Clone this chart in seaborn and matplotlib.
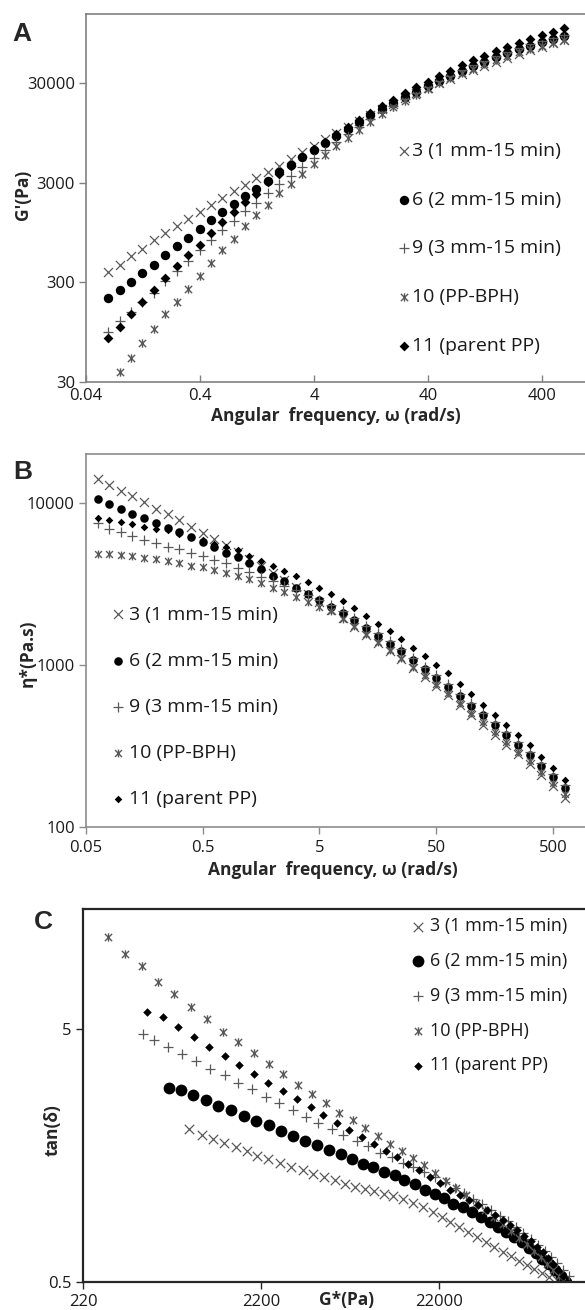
import matplotlib
matplotlib.use("Agg")
import matplotlib.pyplot as plt
import seaborn as sns
from matplotlib.path import Path
from matplotlib.ticker import FixedLocator, FixedFormatter, NullLocator

# ---------------- data ----------------
labels = ["3 (1 mm-15 min)", "6 (2 mm-15 min)", "9 (3 mm-15 min)", "10 (PP-BPH)", "11 (parent PP)"]

freq = [0.0628, 0.0791, 0.0996, 0.125, 0.158, 0.199, 0.250, 0.315, 0.397, 0.500,
        0.628, 0.791, 0.996, 1.25, 1.58, 1.99, 2.50, 3.15, 3.97, 5.00,
        6.28, 7.91, 9.96, 12.5, 15.8, 19.9, 25.0, 31.5, 39.7, 50.0,
        62.8, 79.1, 99.6, 125, 158, 199, 250, 315, 397, 500, 628]

# Panel A: storage modulus G' (Pa)
gp_s3 = [380, 450, 546, 652, 789, 934, 1090, 1280, 1510, 1800,
         2100, 2450, 2830, 3300, 3790, 4410, 5170, 6010, 7000, 8120,
         9400, 10840, 12450, 14260, 16290, 18530, 21030, 23770, 26790, 29900,
         32900, 36400, 40200, 44500, 48800, 53500, 58500, 63500, 69000, 74500, 80000]
gp_s6 = [209, 249, 302, 372, 451, 558, 692, 839, 1016, 1250,
         1514, 1836, 2188, 2594, 3141, 3802, 4508, 5370, 6380, 7550,
         8890, 10420, 12160, 14130, 16330, 18790, 21530, 24550, 27860, 31480,
         35400, 39630, 44160, 48980, 54080, 59430, 65010, 70790, 76740, 82790, 88920]
gp_s9 = [95, 123, 152, 189, 234, 307, 389, 486, 637, 789,
         993, 1230, 1549, 1862, 2344, 2911, 3524, 4315, 5260, 6365,
         7655, 9160, 10890, 12880, 15140, 17700, 20560, 23770, 27300, 31190,
         35400, 39990, 44870, 50030, 55480, 61120, 66990, 73080, 79200, 85330, 91390]
gp_s10 = [37.5, 51.8, 74.1, 102, 143, 191, 259, 350, 468,
          637, 820, 1089, 1403, 1807, 2344, 2911, 3664, 4580, 5680,
          6970, 8470, 10210, 12220, 14490, 17020, 19820, 22860, 26120, 29650,
          33420, 37470, 41740, 46240, 50930, 55790, 60740, 65770, 70790, 75770, 80640]
gp_s11 = [83, 107, 144, 191, 253, 334, 437, 558, 703, 942,
          1202, 1514, 1905, 2312, 3020, 3664, 4436, 5360, 6440, 7710,
          9170, 10860, 12790, 15000, 17500, 20320, 23480, 26980, 30890, 35160,
          39840, 44890, 50350, 56230, 62490, 69050, 75950, 83130, 90530, 98100, 105800]

# Panel B: complex viscosity eta* (Pa.s)
eta_s3 = [14000, 12910, 11860, 10940, 10050, 9180, 8510, 7780, 7140, 6500,
          5970, 5500, 4990, 4520, 4090, 3700, 3340, 3010, 2720, 2440,
          2190, 1940, 1720, 1530, 1370, 1220, 1090, 959, 843, 743,
          653, 566, 492, 427, 370, 322, 281, 245, 209, 178, 152]
eta_s6 = [10540, 9860, 9140, 8550, 8050, 7500, 6980, 6560, 6140, 5770,
          5330, 4930, 4620, 4250, 3890, 3560, 3270, 2990, 2740, 2510,
          2290, 2080, 1900, 1690, 1510, 1350, 1210, 1070, 942, 832,
          735, 641, 560, 489, 427, 370, 321, 278, 238, 204, 175]
eta_s9 = [7500, 6920, 6560, 6260, 5910, 5640, 5370, 5180, 4930, 4670,
          4450, 4250, 3950, 3720, 3490, 3280, 3080, 2890, 2700, 2520,
          2350, 2150, 1950, 1750, 1570, 1400, 1250, 1110, 977, 863,
          762, 665, 581, 507, 443, 385, 333, 289, 248, 212, 182]
eta_s10 = [4840, 4840, 4770, 4670, 4560, 4490, 4390, 4250, 4080, 3990,
           3860, 3680, 3540, 3370, 3180, 3000, 2830, 2640, 2460, 2290,
           2140, 1930, 1740, 1550, 1390, 1240, 1110, 977, 863, 760,
           670, 583, 508, 443, 385, 336, 292, 255, 218, 187, 160]
eta_s11 = [8050, 7850, 7600, 7400, 7140, 6930, 6750, 6440, 6140, 5860,
           5580, 5330, 5080, 4670, 4350, 4080, 3820, 3540, 3240, 2980,
           2730, 2470, 2240, 2000, 1790, 1610, 1450, 1280, 1140, 1000,
           889, 766, 661, 569, 491, 426, 370, 321, 272, 230, 195]

# Panel C: tan(delta) vs complex modulus G* (Pa)
gs_s3 = [869, 1021, 1178, 1361, 1581, 1828, 2100, 2415, 2793, 3221,
         3767, 4325, 4966, 5728, 6516, 7413, 8380, 9480, 10720, 12130,
         13840, 15780, 17780, 20280, 22750, 25350, 28580, 32140, 35810, 40360,
         44770, 50120, 55590, 61380, 68390, 75160, 82990, 91620, 100700, 112200]
tan_s3 = [2.01, 1.91, 1.84, 1.77, 1.71, 1.64, 1.58, 1.53, 1.48, 1.43,
          1.38, 1.34, 1.30, 1.26, 1.22, 1.19, 1.165, 1.14, 1.115, 1.09,
          1.065, 1.03, 0.986, 0.948, 0.906, 0.865, 0.828, 0.791, 0.755, 0.721,
          0.690, 0.659, 0.634, 0.607, 0.583, 0.561, 0.541, 0.525, 0.509, 0.497]
gs_s6 = [671, 778, 912, 1079, 1265, 1496, 1763, 2061, 2432, 2858,
         3334, 3880, 4550, 5320, 6170, 7110, 8180, 9400, 10840, 12450,
         14030, 16000, 18330, 20890, 23440, 26420, 29850, 33650, 37790, 42280,
         47140, 52350, 57910, 63840, 70120, 76710, 83620, 90830, 98260, 105900, 113800]
tan_s6 = [2.92, 2.86, 2.74, 2.62, 2.49, 2.39, 2.26, 2.17, 2.08, 1.98,
          1.89, 1.81, 1.74, 1.66, 1.60, 1.53, 1.46, 1.42, 1.36, 1.32,
          1.27, 1.22, 1.16, 1.11, 1.07, 1.02, 0.986, 0.945, 0.905, 0.866,
          0.827, 0.790, 0.753, 0.718, 0.684, 0.650, 0.618, 0.587, 0.557, 0.527, 0.499]
gs_s9 = [476, 550, 663, 788, 952, 1136, 1371, 1637, 1963, 2344,
         2786, 3311, 3936, 4613, 5483, 6368, 7586, 8810, 10250, 11910,
         13740, 15780, 18110, 20730, 23620, 26840, 30370, 34240, 38490, 43090,
         48080, 53460, 59210, 65360, 71890, 78770, 86030, 93610, 101500, 109600, 118000]
tan_s9 = [4.76, 4.53, 4.25, 3.97, 3.72, 3.48, 3.29, 3.07, 2.89, 2.70,
          2.55, 2.39, 2.25, 2.13, 2.01, 1.91, 1.81, 1.73, 1.62, 1.56,
          1.48, 1.43, 1.363, 1.300, 1.238, 1.179, 1.122, 1.067, 1.015, 0.964,
          0.915, 0.869, 0.824, 0.781, 0.740, 0.700, 0.663, 0.627, 0.592, 0.559, 0.528]
gs_s10 = [304, 379, 469, 583, 714, 887, 1090, 1340, 1630, 2010,
          2430, 2930, 3560, 4230, 5070, 6040, 7190, 8450, 9920, 11700,
          13600, 15640, 18000, 20900, 24000, 27430, 31210, 35360, 39870, 44770,
          50050, 55710, 61710, 68080, 74760, 81730, 88980, 96400, 104000, 111700]
tan_s10 = [11.56, 9.9, 8.87, 7.69, 6.87, 6.13, 5.46, 4.88, 4.44, 4.02,
           3.64, 3.32, 3.00, 2.77, 2.55, 2.33, 2.18, 2.03, 1.89, 1.75,
           1.64, 1.55, 1.45, 1.35, 1.259, 1.176, 1.099, 1.029, 0.964, 0.904,
           0.848, 0.797, 0.749, 0.705, 0.664, 0.626, 0.590, 0.558, 0.527, 0.499]
gs_s11 = [501, 616, 754, 920, 1127, 1371, 1660, 2009, 2415, 2911,
          3490, 4180, 4920, 5850, 6890, 8090, 9480, 11070, 12820, 14790,
          16980, 19540, 22280, 25350, 28710, 32370, 36330, 40600, 45150, 50000,
          55140, 60530, 66130, 71940, 77920, 84030, 90190, 96360, 102500, 108600, 114500]
tan_s11 = [5.85, 5.56, 5.07, 4.63, 4.25, 3.90, 3.59, 3.31, 3.07, 2.85,
           2.64, 2.45, 2.29, 2.13, 1.99, 1.87, 1.75, 1.65, 1.56, 1.46,
           1.39, 1.30, 1.23, 1.16, 1.107, 1.058, 1.012, 0.966, 0.923, 0.880,
           0.839, 0.799, 0.760, 0.724, 0.688, 0.654, 0.620, 0.588, 0.558, 0.528, 0.500]

a_xticks = [0.04, 0.4, 4, 40, 400]
a_yticks = [30, 300, 3000, 30000]
b_xticks = [0.05, 0.5, 5, 50, 500]
b_yticks = [100, 1000, 10000]
c_xticks = [220, 2200, 22000]
c_yticks = [0.5, 5]

# ---------------- style ----------------
sns.set_theme(style="white")
plt.rcParams["font.family"] = ["Open Sans", "DejaVu Sans"]

GREY = "#595959"
star = Path([(-1, -1), (1, 1), (-1, 1), (1, -1), (0, -1.15), (0, 1.15)],
            [Path.MOVETO, Path.LINETO, Path.MOVETO, Path.LINETO, Path.MOVETO, Path.LINETO])

W, H = 585, 1310
fig = plt.figure(figsize=(W / 100, H / 100), dpi=100)


def add_axes(l, t, r, b):
    return fig.add_axes([l / W, 1 - b / H, (r - l) / W, (b - t) / H])


axA = add_axes(86, 14, 585, 382)
axB = add_axes(86, 454, 585, 827)
axC = add_axes(83, 909, 585, 1282)


def series(ax, x, y, kind, size, label):
    if kind == "x":
        sns.scatterplot(x=x, y=y, ax=ax, marker="x", s=size, color=GREY, linewidth=0.9, label=label, legend=False)
    elif kind == "+":
        sns.scatterplot(x=x, y=y, ax=ax, marker="+", s=size, color=GREY, linewidth=0.9, label=label, legend=False)
    elif kind == "star":
        sns.scatterplot(x=x, y=y, ax=ax, marker=star, s=size, color=GREY, edgecolor=GREY, linewidth=1.0,
                        label=label, legend=False)
    elif kind == "o":
        sns.scatterplot(x=x, y=y, ax=ax, marker="o", s=size, color="black", edgecolor="black", linewidth=0,
                        label=label, legend=False)
    elif kind == "D":
        sns.scatterplot(x=x, y=y, ax=ax, marker="D", s=size, color="black", edgecolor="black", linewidth=0,
                        label=label, legend=False)


# Panel A
series(axA, freq, gp_s3, "x", 42, labels[0])
series(axA, freq, gp_s6, "o", 46, labels[1])
series(axA, freq, gp_s9, "+", 50, labels[2])
series(axA, freq[1:], gp_s10, "star", 36, labels[3])
series(axA, freq, gp_s11, "D", 25, labels[4])

# Panel B
series(axB, freq, eta_s3, "x", 42, labels[0])
series(axB, freq, eta_s6, "o", 38, labels[1])
series(axB, freq, eta_s9, "+", 44, labels[2])
series(axB, freq, eta_s10, "star", 32, labels[3])
series(axB, freq, eta_s11, "D", 15, labels[4])

# Panel C
series(axC, gs_s3, tan_s3, "x", 46, labels[0])
series(axC, gs_s6, tan_s6, "o", 72, labels[1])
series(axC, gs_s9, tan_s9, "+", 54, labels[2])
series(axC, gs_s10, tan_s10, "star", 36, labels[3])
series(axC, gs_s11, tan_s11, "D", 19, labels[4])

TICK_FS = 12
LAB_FS = 12.5
LEG_FS = 14


def style_axes(ax, xlim, ylim, xt, yt, spine_color, spine_w, xtick_dir):
    ax.set_xscale("log")
    ax.set_yscale("log")
    ax.set_xlim(*xlim)
    ax.set_ylim(*ylim)
    ax.xaxis.set_major_locator(FixedLocator(xt))
    ax.xaxis.set_major_formatter(FixedFormatter([f"{v:g}" for v in xt]))
    ax.yaxis.set_major_locator(FixedLocator(yt))
    ax.yaxis.set_major_formatter(FixedFormatter([f"{v:g}" for v in yt]))
    ax.xaxis.set_minor_locator(NullLocator())
    ax.yaxis.set_minor_locator(NullLocator())
    for side in ["left", "bottom", "top"]:
        ax.spines[side].set_visible(True)
        ax.spines[side].set_color(spine_color)
        ax.spines[side].set_linewidth(spine_w)
    ax.spines["right"].set_visible(False)
    ax.tick_params(axis="y", which="major", left=True, direction="out", length=5, width=1,
                   color=spine_color, labelsize=TICK_FS, labelcolor="#1a1a1a", pad=3)
    ax.tick_params(axis="x", which="major", bottom=True, direction=xtick_dir, length=5, width=1,
                   color=spine_color, labelsize=TICK_FS, labelcolor="#1a1a1a", pad=4)
    ax.grid(False)
    ax.set_facecolor("white")


style_axes(axA, (0.04, 953), (30, 147000), a_xticks, a_yticks, "#808080", 1.2, "in")
style_axes(axB, (0.05, 940), (100, 20000), b_xticks, b_yticks, "#8c8c8c", 1.2, "out")
style_axes(axC, (220, 145000), (0.5, 14.9), c_xticks, c_yticks, "#262626", 1.6, "out")

# axis labels
axA.set_xlabel("Angular  frequency, ω (rad/s)", fontsize=LAB_FS, fontweight="bold")
axA.xaxis.set_label_coords(0.501, -0.068)
axA.set_ylabel("G'(Pa)", fontsize=LAB_FS, fontweight="bold")
axA.yaxis.set_label_coords(-0.108, 0.508)

axB.set_xlabel("Angular  frequency, ω (rad/s)", fontsize=LAB_FS, fontweight="bold")
axB.xaxis.set_label_coords(0.495, -0.092)
axB.set_ylabel("η*(Pa.s)", fontsize=LAB_FS, fontweight="bold")
axB.yaxis.set_label_coords(-0.098, 0.466)

axC.set_xlabel("G*(Pa)", fontsize=LAB_FS, fontweight="bold")
axC.xaxis.set_label_coords(0.526, -0.024)
axC.set_ylabel("tan(δ)", fontsize=LAB_FS, fontweight="bold")
axC.yaxis.set_label_coords(-0.042, 0.408)

# panel letters
fig.text(12 / W, 1 - 41 / H, "A", fontsize=19, fontweight="bold", family=["Liberation Sans", "DejaVu Sans"])
fig.text(13 / W, 1 - 479 / H, "B", fontsize=19, fontweight="bold", family=["Liberation Sans", "DejaVu Sans"])
fig.text(34 / W, 1 - 929 / H, "C", fontsize=19, fontweight="bold", family=["Liberation Sans", "DejaVu Sans"])

# legends
common = dict(frameon=False, scatterpoints=1, borderpad=0, borderaxespad=0, labelcolor="#1a1a1a")
axA.legend(loc="center left", bbox_to_anchor=(0.627, 0.363), fontsize=LEG_FS, labelspacing=1.58,
           handlelength=0.5, handletextpad=0.2, **common)
axB.legend(loc="center left", bbox_to_anchor=(0.055, 0.322), fontsize=LEG_FS, labelspacing=1.45,
           handlelength=0.5, handletextpad=0.3, **common)
axC.legend(loc="center left", bbox_to_anchor=(0.656, 0.767), fontsize=13, labelspacing=0.93,
           handlelength=0.6, handletextpad=0.4, **common)

fig.savefig("out.png", dpi=100, facecolor="white")
